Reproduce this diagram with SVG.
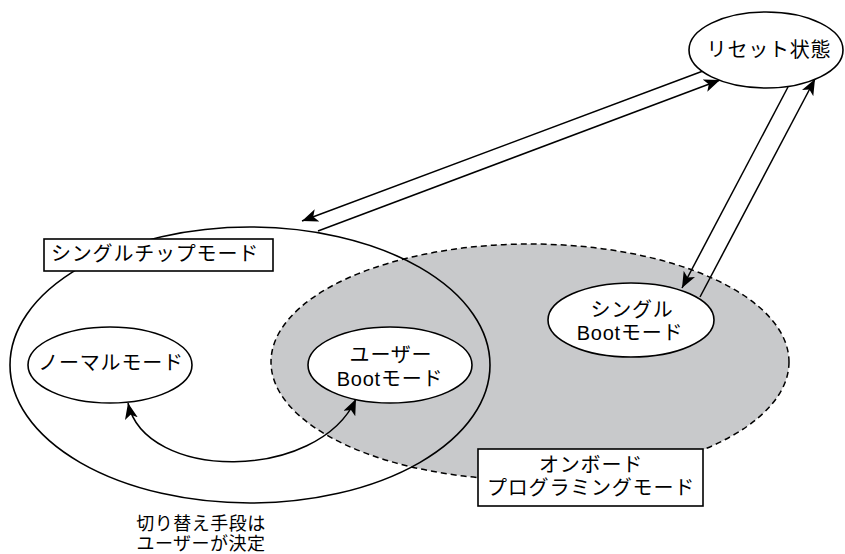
<svg xmlns="http://www.w3.org/2000/svg" width="845" height="554" viewBox="0 0 845 554">
<style>
.t{font-family:"Liberation Sans","Noto Sans CJK JP",sans-serif;font-size:20px;fill:#000;text-anchor:middle;letter-spacing:0.8px}
.s{font-size:18px;letter-spacing:0.5px}
.node{fill:#fff;stroke:#000;stroke-width:1.6}
.box{fill:#fff;stroke:#000;stroke-width:1.6}
.edge{fill:none;stroke:#000;stroke-width:1.5}
</style>
<defs>
<marker id="ah" markerUnits="userSpaceOnUse" markerWidth="17" markerHeight="13" refX="16" refY="6.5" orient="auto">
<path d="M0,0 L16,6.5 L0,13 L4,6.5 z" fill="#000"/>
</marker>
<marker id="ahs" markerUnits="userSpaceOnUse" markerWidth="17" markerHeight="13" refX="1" refY="6.5" orient="auto">
<path d="M17,0 L1,6.5 L17,13 L13,6.5 z" fill="#000"/>
</marker>
</defs>
<rect width="845" height="554" fill="#fff"/>

<g id="onboard-mode">
<ellipse cx="530" cy="362" rx="259" ry="118" fill="#c8c9cb" stroke="#000" stroke-width="1.5" stroke-dasharray="6,4"/>
</g>

<g id="single-chip-mode">
<ellipse cx="250" cy="365" rx="240" ry="138" fill="none" stroke="#000" stroke-width="1.6"/>
</g>

<g id="connectors">
<line class="edge" x1="703" y1="71" x2="302" y2="221" marker-end="url(#ah)"/>
<line class="edge" x1="318" y1="231" x2="720" y2="80" marker-end="url(#ah)"/>
<line class="edge" x1="788" y1="87" x2="682" y2="288" marker-end="url(#ah)"/>
<line class="edge" x1="700" y1="297" x2="815" y2="79" marker-end="url(#ah)"/>
<path class="edge" d="M128,403 C145,482 318,482 356,399" marker-start="url(#ahs)" marker-end="url(#ah)"/>
</g>

<g id="reset-state">
<ellipse class="node" cx="766" cy="50" rx="77" ry="38"/>
<text class="t" x="769" y="57">リセット状態</text>
</g>

<g id="single-boot-mode">
<ellipse class="node" cx="631" cy="320" rx="83" ry="37"/>
<text class="t" x="632" y="317">シングル</text>
<text class="t" x="630" y="340">Bootモード</text>
</g>

<g id="normal-mode">
<ellipse class="node" cx="110" cy="365" rx="82" ry="38"/>
<text class="t" x="111" y="370">ノーマルモード</text>
</g>

<g id="user-boot-mode">
<ellipse class="node" cx="390" cy="365" rx="82" ry="38"/>
<text class="t" x="391" y="362">ユーザー</text>
<text class="t" x="390" y="386">Bootモード</text>
</g>

<g id="single-chip-label">
<rect class="box" x="44" y="239" width="229" height="32"/>
<text class="t" x="155" y="261">シングルチップモード</text>
</g>

<g id="onboard-label">
<rect class="box" x="478" y="449" width="225" height="57"/>
<text class="t" x="591" y="472">オンボード</text>
<text class="t" x="591" y="495">プログラミングモード</text>
</g>

<g id="switch-note">
<text class="t s" x="201" y="530">切り替え手段は</text>
<text class="t s" x="201" y="550">ユーザーが決定</text>
</g>
</svg>
